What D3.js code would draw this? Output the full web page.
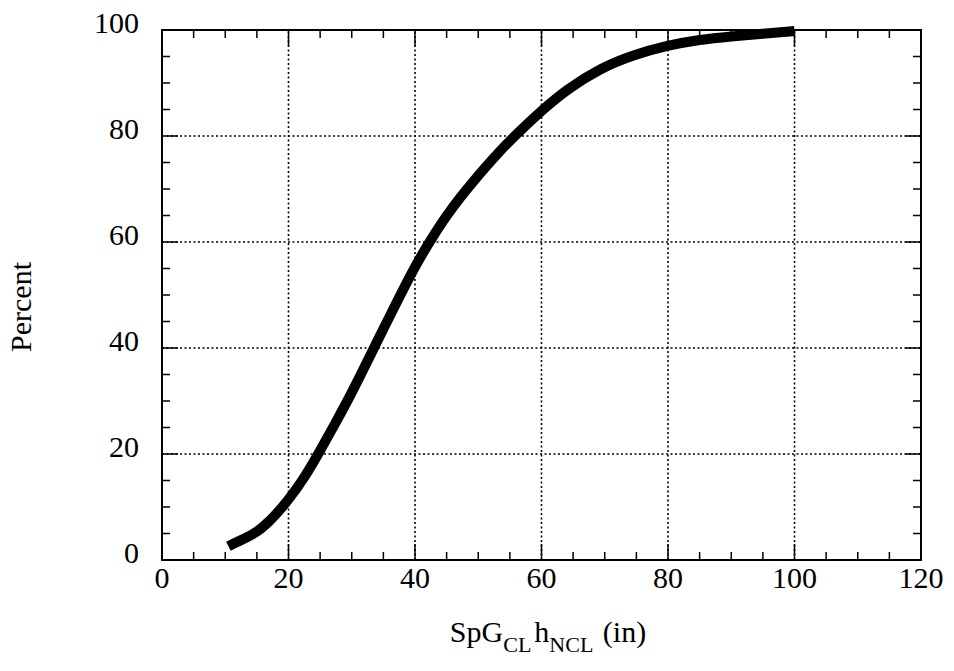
<!DOCTYPE html>
<meta charset="utf-8">
<style>
body { margin: 0; background: #fff; }
text { font-family: "Liberation Serif", "Times New Roman", serif; fill: #000; }
</style>
<body>
<script src="https://cdn.jsdelivr.net/npm/d3@7"></script>
<script>

// cumulative distribution
var xVals = [10.5, 12, 14.5, 17, 20, 22.5, 24.7, 27.5, 30, 33.5, 36, 40, 42.8, 45, 47.2, 50, 53.5, 56, 60, 64, 69.3, 74.5, 80, 85, 90, 95, 100];
var pVals = [2.6, 3.5, 4.8, 7.2, 11.3, 15.5, 20, 26, 31.5, 40, 46, 55.5, 61, 65, 68.5, 72.6, 77.3, 80.3, 84.8, 88.8, 92.8, 95.3, 97.1, 98.2, 98.8, 99.3, 99.8];

var xTicks = [0, 20, 40, 60, 80, 100, 120];
var yTicks = [0, 20, 40, 60, 80, 100];

var w = 954, h = 671,
    margin = {top: 30, right: 33, bottom: 111, left: 162};

var svg = d3.select("body").append("svg")
    .attr("width", w)
    .attr("height", h);

var x = d3.scaleLinear().domain([0, 120]).range([margin.left, w - margin.right]);
var y = d3.scaleLinear().domain([0, 100]).range([h - margin.bottom, margin.top]);

var minorX = d3.range(0, 121, 5).filter(function(d) { return d % 20; }),
    minorY = d3.range(0, 101, 5).filter(function(d) { return d % 20; });

// dotted grid
svg.append("g").selectAll("line")
    .data(xTicks.slice(1, -1))
  .enter().append("line")
    .attr("x1", x).attr("x2", x)
    .attr("y1", y(0)).attr("y2", y(100))
    .attr("stroke", "#000").attr("stroke-width", 1.6)
    .attr("stroke-dasharray", "2,2.5");

svg.append("g").selectAll("line")
    .data(yTicks.slice(1, -1))
  .enter().append("line")
    .attr("y1", y).attr("y2", y)
    .attr("x1", x(0)).attr("x2", x(120))
    .attr("stroke", "#000").attr("stroke-width", 1.6)
    .attr("stroke-dasharray", "2,2.5");

// inward ticks on all four sides
var tick = svg.append("g").attr("stroke", "#000").attr("stroke-width", 1.5);

function ticksX(data, len) {
  data.forEach(function(d) {
    tick.append("line").attr("x1", x(d)).attr("x2", x(d)).attr("y1", y(0)).attr("y2", y(0) - len);
    tick.append("line").attr("x1", x(d)).attr("x2", x(d)).attr("y1", y(100)).attr("y2", y(100) + len);
  });
}
function ticksY(data, len) {
  data.forEach(function(d) {
    tick.append("line").attr("y1", y(d)).attr("y2", y(d)).attr("x1", x(0)).attr("x2", x(0) + len);
    tick.append("line").attr("y1", y(d)).attr("y2", y(d)).attr("x1", x(120)).attr("x2", x(120) - len);
  });
}
ticksX(minorX, 8);
ticksY(minorY, 8);
ticksX(xTicks, 16);
ticksY(yTicks, 16);

// frame
svg.append("rect")
    .attr("x", x(0)).attr("y", y(100))
    .attr("width", x(120) - x(0)).attr("height", y(0) - y(100))
    .attr("fill", "none").attr("stroke", "#000").attr("stroke-width", 2);

// tick labels
svg.append("g").selectAll("text")
    .data(xTicks)
  .enter().append("text")
    .attr("x", x).attr("y", y(0) + 28)
    .attr("text-anchor", "middle")
    .style("font-size", "30px")
    .text(function(d) { return d; });

svg.append("g").selectAll("text")
    .data(yTicks)
  .enter().append("text")
    .attr("x", x(0) - 23).attr("y", function(d) { return y(d) + 3; })
    .attr("text-anchor", "end")
    .style("font-size", "30px")
    .text(function(d) { return d; });

// curve
var pts = xVals.map(function(d, i) { return [d, pVals[i]]; });

svg.append("path")
    .datum(pts)
    .attr("fill", "none")
    .attr("stroke", "#000")
    .attr("stroke-width", 10)
    .attr("stroke-linejoin", "round")
    .attr("d", d3.line()
        .x(function(d) { return x(d[0]); })
        .y(function(d) { return y(d[1]); })
        .curve(d3.curveBasis));

// axis titles
svg.append("text")
    .attr("transform", "translate(31,307) rotate(-90)")
    .attr("text-anchor", "middle")
    .style("font-size", "30px")
    .text("Percent");

var xt = svg.append("text")
    .attr("x", 548).attr("y", 642)
    .attr("text-anchor", "middle")
    .style("font-size", "30px");
xt.append("tspan").text("SpG");
xt.append("tspan").attr("dy", 10).style("font-size", "22px").text("CL");
xt.append("tspan").attr("dy", -10).attr("dx", 3).text("h");
xt.append("tspan").attr("dy", 10).style("font-size", "22px").text("NCL");
xt.append("tspan").attr("dy", -10).attr("dx", 2).text(" (in)");

</script>
